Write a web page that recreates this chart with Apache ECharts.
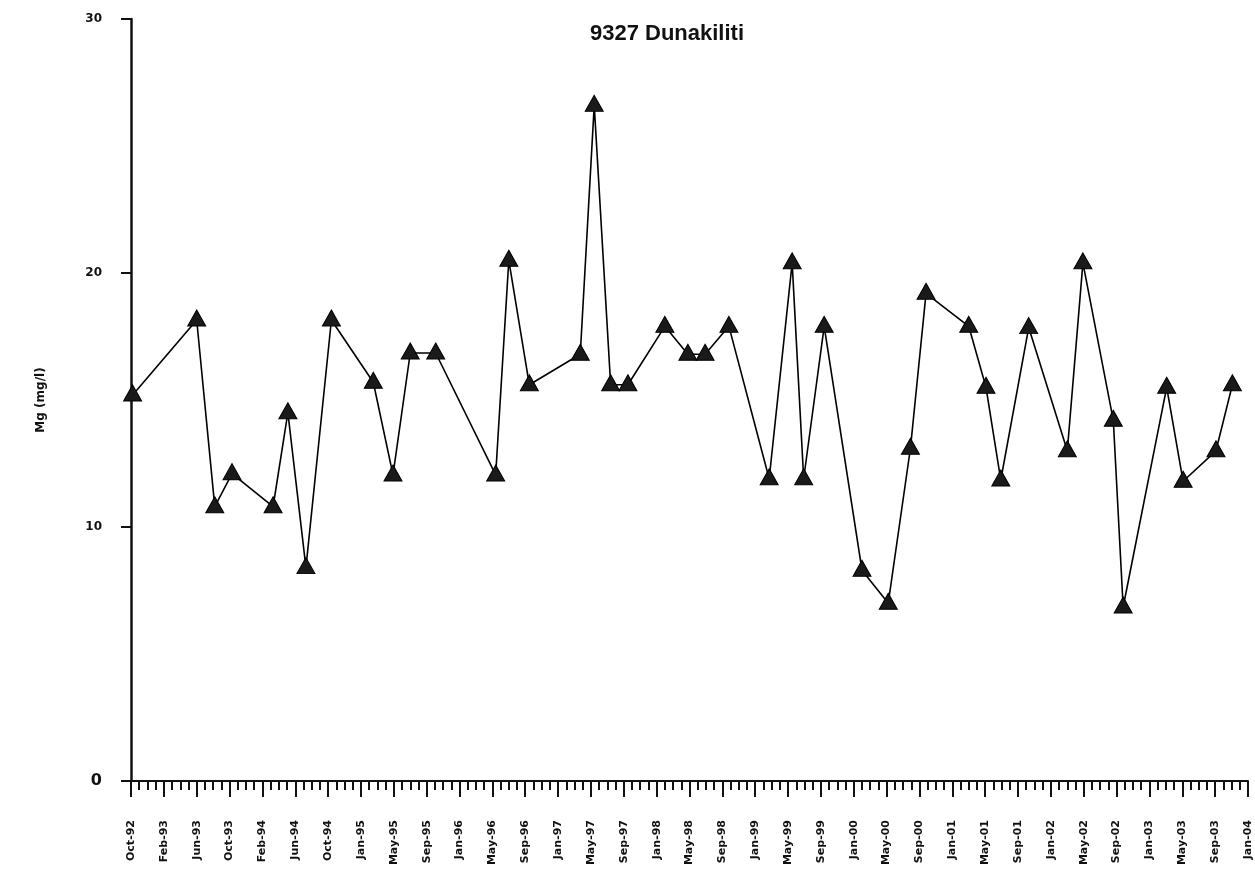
<!DOCTYPE html>
<html>
<head>
<meta charset="utf-8">
<title>9327 Dunakiliti</title>
<script src="https://cdn.jsdelivr.net/npm/echarts@6/dist/echarts.min.js"></script>
<style>
  html, body { margin: 0; padding: 0; background: #fff; }
  #chart { width: 1255px; height: 882px; }
</style>
</head>
<body>
<div id="chart"></div>
<script>
// axis labels, one every 4 axis-months starting at Oct-92
const tickLabels = [
  'Oct-92', 'Feb-93', 'Jun-93', 'Oct-93', 'Feb-94', 'Jun-94', 'Oct-94',
  'Jan-95', 'May-95', 'Sep-95', 'Jan-96', 'May-96', 'Sep-96', 'Jan-97',
  'May-97', 'Sep-97', 'Jan-98', 'May-98', 'Sep-98', 'Jan-99', 'May-99',
  'Sep-99', 'Jan-00', 'May-00', 'Sep-00', 'Jan-01', 'May-01', 'Sep-01',
  'Jan-02', 'May-02', 'Sep-02', 'Jan-03', 'May-03', 'Sep-03', 'Jan-04'
];

// sample position along the axis, in months after Oct-92
const sampleMonths = [
  0.2, 8.0, 10.2, 12.3, 17.3, 19.1, 21.3, 24.4, 29.5, 31.9,
  34.0, 37.1, 44.4, 46.0, 48.5, 54.7, 56.4, 58.4, 60.5, 65.0,
  67.8, 69.9, 72.8, 77.7, 80.5, 81.9, 84.4, 89.0, 92.2, 94.9,
  96.8, 102.0, 104.1, 105.9, 109.3, 114.0, 115.9, 119.6, 120.8, 126.1,
  128.1, 132.1, 134.1
];

// Mg concentration (mg/l)
const mgValues = [
  15.2, 18.15, 10.8, 12.1, 10.8, 14.5, 8.4, 18.15, 15.7, 12.05,
  16.85, 16.85, 12.05, 20.5, 15.6, 16.8, 26.6, 15.6, 15.6, 17.9,
  16.8, 16.8, 17.9, 11.9, 20.4, 11.9, 17.9, 8.3, 7.0, 13.1,
  19.2, 17.9, 15.5, 11.85, 17.85, 13.0, 20.4, 14.2, 6.85, 15.5,
  11.8, 13.0, 15.6
];

const yTicks = [0, 10, 20, 30];

const chart = echarts.init(document.getElementById('chart'), null, { renderer: 'canvas' });

const font = '"Liberation Sans", Arial, sans-serif';
const wideFont = '"DejaVu Sans", "Liberation Sans", sans-serif';

const option = {
  backgroundColor: '#ffffff',
  animation: false,
  title: {
    text: '9327 Dunakiliti',
    left: 662,
    top: 18,
    textAlign: 'center',
    textStyle: { fontFamily: font, fontSize: 22, fontWeight: 'bold', color: '#111' }
  },
  grid: {
    left: 131,
    right: 7,
    top: 19,
    bottom: 101,
    containLabel: false
  },
  xAxis: {
    type: 'value',
    min: 0,
    max: (tickLabels.length - 1) * 4,
    interval: 4,
    axisLine: { onZero: false, lineStyle: { color: '#111', width: 2 } },
    axisTick: { show: true, length: 16, inside: false, lineStyle: { color: '#111', width: 2 } },
    minorTick: { show: true, splitNumber: 4, length: 9, lineStyle: { color: '#111', width: 2 } },
    splitLine: { show: false },
    axisLabel: {
      rotate: 90,
      margin: 39,
      fontFamily: wideFont,
      fontSize: 11,
      fontWeight: 'bold',
      color: '#111',
      formatter: v => tickLabels[Math.round(v / 4)] || ''
    }
  },
  yAxis: {
    type: 'value',
    min: yTicks[0],
    max: yTicks[yTicks.length - 1],
    interval: 10,
    name: 'Mg (mg/l)',
    nameLocation: 'middle',
    nameGap: 84,
    nameTextStyle: { fontFamily: wideFont, fontSize: 12, fontWeight: 'bold', color: '#111' },
    axisLine: { show: true, lineStyle: { color: '#111', width: 2.5 } },
    axisTick: { show: true, length: 10, lineStyle: { color: '#111', width: 2 } },
    splitLine: { show: false },
    axisLabel: {
      margin: 29,
      fontFamily: wideFont,
      fontSize: 12,
      fontWeight: 'bold',
      color: '#111',
      formatter: v => (v === 0 ? '{big|0}' : String(v)),
      rich: {
        big: { fontFamily: wideFont, fontSize: 16, fontWeight: 'bold', color: '#111' }
      }
    }
  },
  series: [
    {
      name: 'Mg',
      type: 'line',
      data: sampleMonths.map((m, i) => [m, mgValues[i]]),
      symbol: 'triangle',
      symbolSize: [18, 16],
      symbolOffset: [0, -2],
      itemStyle: { color: '#1a1a1a', borderColor: '#000', borderWidth: 1 },
      lineStyle: { color: '#000', width: 1.6 },
      clip: false
    }
  ]
};

chart.setOption(option);
</script>
</body>
</html>
